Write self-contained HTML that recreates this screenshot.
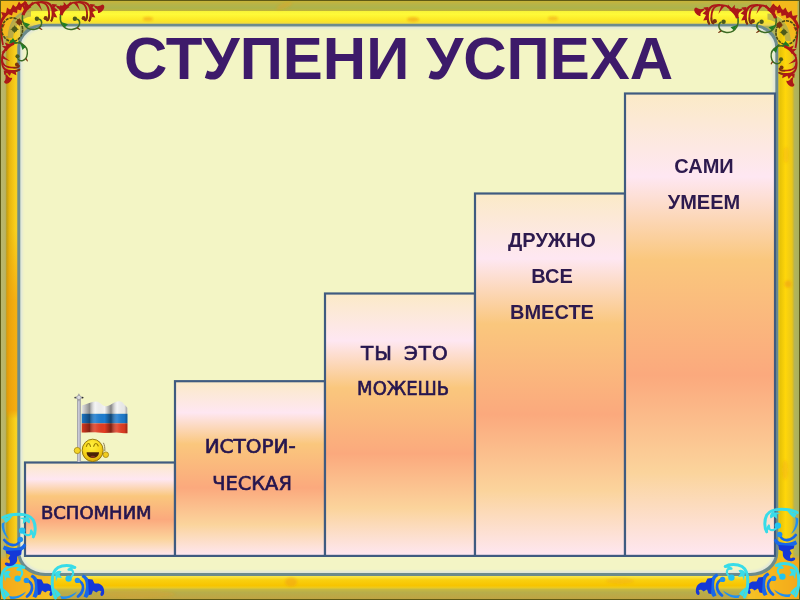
<!DOCTYPE html>
<html lang="ru">
<head>
<meta charset="utf-8">
<title>Ступени успеха</title>
<style>
html,body{margin:0;padding:0;}
body{width:800px;height:600px;overflow:hidden;background:#f3f5c5;position:relative;font-family:"Liberation Sans",sans-serif;}
#frame{position:absolute;left:0;top:0;width:800px;height:600px;}
#title{position:absolute;left:-1.5px;top:29px;width:800px;text-align:center;font-weight:bold;font-size:60px;line-height:60px;color:#3d1a6a;white-space:nowrap;}
.lbl{position:absolute;text-align:center;font-weight:bold;color:#2d1a4e;white-space:nowrap;width:152px;font-size:20px;line-height:36px;}
.cs{font-family:"DejaVu Sans","Liberation Sans",sans-serif;font-weight:normal;color:#26164f;-webkit-text-stroke:0.7px #26164f;}
.cs span{display:inline-block;}
</style>
</head>
<body>
<svg id="frame" width="800" height="600" viewBox="0 0 800 600">
<defs>
<linearGradient id="wheat" x1="0" y1="0" x2="0" y2="1">
<stop offset="0" stop-color="#FBEAC7"/>
<stop offset="0.18" stop-color="#FEE7F2"/>
<stop offset="0.36" stop-color="#FAC77D"/>
<stop offset="0.61" stop-color="#FBA97D"/>
<stop offset="0.82" stop-color="#FBD49C"/>
<stop offset="1" stop-color="#FEE7F2"/>
</linearGradient>
<linearGradient id="bevT" x1="0" y1="0" x2="0" y2="1">
<stop offset="0" stop-color="#c6b43a"/><stop offset="0.35" stop-color="#b6b448"/><stop offset="0.7" stop-color="#acb44c"/><stop offset="1" stop-color="#c0b438"/>
</linearGradient>
<linearGradient id="bevB" x1="0" y1="0" x2="0" y2="1">
<stop offset="0" stop-color="#cdbc3c"/><stop offset="0.4" stop-color="#b8ae4a"/><stop offset="1" stop-color="#bfa442"/>
</linearGradient>
<linearGradient id="bevL" x1="0" y1="0" x2="1" y2="0">
<stop offset="0" stop-color="#b9b870"/><stop offset="0.6" stop-color="#b9b465"/><stop offset="1" stop-color="#b89a10"/>
</linearGradient>
<linearGradient id="bevR" x1="0" y1="0" x2="1" y2="0">
<stop offset="0" stop-color="#c8b830"/><stop offset="0.4" stop-color="#b4b45a"/><stop offset="1" stop-color="#a8b060"/>
</linearGradient>
<linearGradient id="faceT" x1="0" y1="0" x2="0" y2="1">
<stop offset="0" stop-color="#f6f23a"/><stop offset="0.25" stop-color="#fffa38"/><stop offset="0.7" stop-color="#fbe624"/><stop offset="1" stop-color="#ecd455"/>
</linearGradient>
<linearGradient id="faceB" x1="0" y1="0" x2="0" y2="1">
<stop offset="0" stop-color="#f8f060"/><stop offset="0.35" stop-color="#f9d010"/><stop offset="0.75" stop-color="#f7c400"/><stop offset="1" stop-color="#e6cc30"/>
</linearGradient>
<linearGradient id="faceL" x1="0" y1="0" x2="1" y2="0">
<stop offset="0" stop-color="#b09a14"/><stop offset="0.25" stop-color="#e6bc10"/><stop offset="0.65" stop-color="#fad81e"/><stop offset="1" stop-color="#e8dc58"/>
</linearGradient>
<linearGradient id="faceLo" x1="0" y1="0" x2="0" y2="1">
<stop offset="0" stop-color="#f09408" stop-opacity="0.15"/><stop offset="0.38" stop-color="#f09408" stop-opacity="0.15"/><stop offset="0.5" stop-color="#f09408" stop-opacity="0.6"/><stop offset="0.69" stop-color="#f09408" stop-opacity="0.65"/><stop offset="0.705" stop-color="#f09408" stop-opacity="0.1"/><stop offset="1" stop-color="#f09408" stop-opacity="0.2"/>
</linearGradient>
<linearGradient id="faceR" x1="0" y1="0" x2="1" y2="0">
<stop offset="0" stop-color="#e4cc40"/><stop offset="0.2" stop-color="#e8c408"/><stop offset="0.5" stop-color="#ffd60a"/><stop offset="0.85" stop-color="#ecc818"/><stop offset="1" stop-color="#ccb830"/>
</linearGradient>
<linearGradient id="cornB" x1="0" y1="0" x2="1" y2="0"><stop offset="0" stop-color="#f2a61c"/><stop offset="0.6" stop-color="#f6b81c"/><stop offset="1" stop-color="#f4c42a"/></linearGradient>
<clipPath id="inClip"><rect x="1" y="1" width="798" height="598"/></clipPath>
<filter id="b2" x="-20%" y="-20%" width="140%" height="140%"><feGaussianBlur stdDeviation="2"/></filter>
<clipPath id="faceClip"><rect x="6.5" y="11" width="787" height="577.5" rx="30" ry="30"/></clipPath>
<filter id="b1" x="-5%" y="-5%" width="110%" height="110%"><feGaussianBlur stdDeviation="1.1"/></filter>
<filter id="b05" x="-5%" y="-5%" width="110%" height="110%"><feGaussianBlur stdDeviation="0.5"/></filter>
</defs>
<!-- outer dark line -->
<rect x="0" y="0" width="800" height="600" fill="#5f5a14"/>
<rect x="1" y="1" width="798" height="598" fill="#b0b25a"/>
<!-- outer bevel -->
<polygon points="1,1 799,1 790,11 10,11" fill="url(#bevT)"/>
<polygon points="1,599 799,599 790,588 10,588" fill="url(#bevB)"/>
<polygon points="1,1 8,11 8,588 1,599" fill="url(#bevL)"/>
<polygon points="799,1 792,11 792,588 799,599" fill="url(#bevR)"/>
<!-- yellow face -->
<g clip-path="url(#faceClip)">
<polygon points="0,0 800,0 770,30 30,30" fill="url(#faceT)" transform="translate(0,10.5) scale(1,0.5)"/>
<rect x="6" y="10.5" width="788" height="15" fill="url(#faceT)"/>
<rect x="6" y="575" width="788" height="14" fill="url(#faceB)"/>
<polygon points="6,10.5 20,27 20,573 6,589" fill="url(#faceL)"/>
<rect x="6" y="10" width="14" height="580" fill="url(#faceLo)"/>
<polygon points="794,10.5 777,27 777,573 794,589" fill="url(#faceR)"/>
</g>
<g id="marble" filter="url(#b1)" fill="#f0a018">
<ellipse cx="148" cy="19" rx="5" ry="2.2" opacity="0.55"/>
<ellipse cx="413" cy="19.5" rx="6" ry="2.5" opacity="0.6"/>
<ellipse cx="553" cy="18.5" rx="5" ry="2.2" opacity="0.5"/>
<ellipse cx="284" cy="6" rx="8" ry="2.6" opacity="0.35" transform="rotate(-20 284 6)"/>
<ellipse cx="291" cy="582" rx="6" ry="4.5" opacity="0.5"/>
<ellipse cx="135" cy="594" rx="40" ry="4" opacity="0.25"/>
<ellipse cx="788" cy="284" rx="3.5" ry="3.5" opacity="0.6"/>
<ellipse cx="786" cy="155" rx="3" ry="8" opacity="0.25"/>
<ellipse cx="785" cy="470" rx="3" ry="10" opacity="0.3"/>
<ellipse cx="620" cy="581" rx="14" ry="3" opacity="0.3"/>
</g>
<g id="cornFill" clip-path="url(#inClip)">
<rect x="-4" y="558" width="58" height="46" fill="url(#cornB)" filter="url(#b2)"/>
<rect x="-4" y="558" width="58" height="46" fill="url(#cornB)" filter="url(#b2)" transform="translate(800,0) scale(-1,1)"/>
</g>
<!-- inner panel -->
<rect x="17.3" y="23.8" width="761" height="552.2" rx="27" ry="23" fill="#6c8b8c"/>
<rect x="20.3" y="26.5" width="755" height="546.4" rx="25" ry="21" fill="#dfe6dc" filter="url(#b05)"/>
<rect x="22.5" y="28.5" width="750.6" height="542.4" rx="23" ry="19" fill="#f3f5c5" filter="url(#b1)"/>
<!-- bars -->
<g fill="url(#wheat)" stroke="#3f5b80" stroke-width="2.2">
<rect x="25" y="462.5" width="150" height="93.4"/>
<rect x="175" y="381.2" width="150" height="174.7"/>
<rect x="325" y="293.5" width="150" height="262.4"/>
<rect x="475" y="193.5" width="150" height="362.4"/>
<rect x="625" y="93.5" width="150" height="462.4"/>
</g>
<!-- FLAG -->
<g id="flag">
<defs>
<linearGradient id="pole" x1="0" y1="0" x2="1" y2="0"><stop offset="0" stop-color="#8e8e96"/><stop offset="0.45" stop-color="#d4d4e2"/><stop offset="1" stop-color="#90909a"/></linearGradient>
<linearGradient id="fold" x1="0" y1="0" x2="1" y2="0">
<stop offset="0" stop-color="#000" stop-opacity="0.05"/>
<stop offset="0.17" stop-color="#000" stop-opacity="0.42"/>
<stop offset="0.30" stop-color="#fff" stop-opacity="0.12"/>
<stop offset="0.50" stop-color="#000" stop-opacity="0"/>
<stop offset="0.64" stop-color="#000" stop-opacity="0.45"/>
<stop offset="0.78" stop-color="#fff" stop-opacity="0.12"/>
<stop offset="0.93" stop-color="#000" stop-opacity="0.05"/>
<stop offset="1" stop-color="#000" stop-opacity="0.35"/>
</linearGradient>
<radialGradient id="face" cx="0.45" cy="0.3" r="0.75"><stop offset="0" stop-color="#fff040"/><stop offset="0.55" stop-color="#f8d81c"/><stop offset="1" stop-color="#d8a000"/></radialGradient>
<clipPath id="flagClip"><path d="M81.7,405.6 C86,404.6 91,401.6 96,401.6 C100,401.6 102,406.2 106,406.2 C110,406.2 114,401.2 119.5,401.2 C122.5,401.2 124,404.5 125.4,405.6 L127.5,408 L127.5,433.2 C124,433.6 120,432.2 116,432.4 C110,432.8 104,433.2 98,432.6 C92,432 87,432.8 81.7,432.4 Z"/></clipPath>
</defs>
<rect x="77.1" y="399" width="3.7" height="63" fill="url(#pole)"/>
<path d="M78.9,393.2 L80.6,396 L83.2,397.6 L80.6,399.2 L78.9,401.4 L77.2,399.2 L74.5,397.6 L77.2,396 Z" fill="#a2a2a6"/>
<circle cx="78.9" cy="397.4" r="1.7" fill="#dcdce0"/>
<circle cx="75.2" cy="397.6" r="0.9" fill="#4a4a4a"/><circle cx="82.6" cy="397.6" r="0.9" fill="#2a2a2a"/>
<g clip-path="url(#flagClip)">
<rect x="81" y="400" width="48" height="13.8" fill="#f2f2f2"/>
<rect x="81" y="413.8" width="48" height="9.6" fill="#1c7cd0"/>
<rect x="81" y="423.4" width="48" height="11" fill="#e23c22"/>
<rect x="81.7" y="400" width="45.8" height="35" fill="url(#fold)"/>
</g>
<!-- smiley -->
<circle cx="77.3" cy="450.5" r="3.1" fill="#f4d428" stroke="#9a7a08" stroke-width="0.7"/>
<circle cx="105.8" cy="454.7" r="2.8" fill="#f0cc20" stroke="#9a7a08" stroke-width="0.7"/>
<path d="M103.4,442.8 C104.6,445 105,448 104.8,451" fill="none" stroke="#80704a" stroke-width="0.9"/>
<ellipse cx="92.65" cy="450.4" rx="10.5" ry="11.2" fill="url(#face)" stroke="#8a6e08" stroke-width="0.9"/>
<path d="M86.4,446.4 C87,444.2 87.8,443.5 88.4,443.5 C89,443.5 89.9,444.2 90.5,446.4" fill="none" stroke="#9a7c00" stroke-width="1.2" stroke-linecap="round"/>
<path d="M93.7,446.3 C94.4,444.2 95.2,443.5 95.9,443.5 C96.6,443.5 97.6,444.2 98.2,446" fill="none" stroke="#9a7c00" stroke-width="1.2" stroke-linecap="round"/>
<path d="M86.6,452.3 L99,452.3 C99,455.5 96.5,458 92.8,458 C89.1,458 86.6,455.5 86.6,452.3 Z" fill="#4a2206"/>
<ellipse cx="92.8" cy="456.8" rx="2.2" ry="1" fill="#8a3420"/>
</g>
<!-- /FLAG -->
<!-- ORN -->
<g transform="">
<path d="M1,1 L27,1 L27,11 C17,12 9,20 8,36 L1,36 Z" fill="#f3b91c"/>
<path d="M31,10.5 C18,11.5 9,20 7.5,38 L13,38 C14.5,25 21,18 31,16.5 Z" fill="#a9a456" opacity="0.75"/>
<path d="M0.5,24 C2,18 6,13.5 12,10 C17,7.5 21,6 25.5,3.2" fill="none" stroke="#ac1818" stroke-width="3" stroke-linecap="round"/>
<path d="M25,3.5 C27,5 28,7 28.5,9.5 L24,8 Z" fill="#ac1818"/>
<path d="M3,17 L1,12 L6,13 L7,7.5 L10.5,10 L13,4.5 L16,7.5 L19,1.5 L21.5,5 L25,0.5 L27,4 L14,11 Z" fill="#ac1818"/>
<path d="M8,14 L12,15.5 L13,12 L17,13 L17.5,9.5 L21,10.5 L22,7 L12,9 Z" fill="#ac1818"/>
<path d="M0.8,23 C1,30 1.5,38 3,45" fill="none" stroke="#ac1818" stroke-width="1.8"/>
<path d="M1,25 L5,24 L3,28 Z" fill="#ac1818"/>
<ellipse cx="12.2" cy="29.6" rx="10.4" ry="11.8" fill="none" stroke="#4c4a14" stroke-width="1.6" stroke-dasharray="3.2 0.9"/>
<circle cx="19.2" cy="22" r="2.7" fill="#7a3410"/>
<path d="M19.2,17.8 L20.5,21 L23.6,22 L20.5,23.2 L19.2,26.2 L18,23.2 L14.8,22 L18,21 Z" fill="#7a3410"/>
<circle cx="14.6" cy="29.2" r="2.6" fill="#4d5a1a"/>
<path d="M14.6,25 L15.8,28 L19,29.2 L15.8,30.4 L14.6,33.6 L13.4,30.4 L10.2,29.2 L13.4,28 Z" fill="#4d5a1a"/>
<path d="M8.5,43.5 L13,38 L17,43.8 Z" fill="#1e7d24"/>
<path d="M19,41.5 C21,43 23,45 25,47.5" fill="none" stroke="#3b6b22" stroke-width="1.6"/>
</g>
<g transform="">
<path d="M60.5,14.6 C62,10 65,7 68,5.2 C71,3 74,2 77,2.1 C80,2.2 83,3 84.6,5 C86.5,7.5 87.2,12 87.1,16 C87,18.6 86.4,20 85.2,20.3" fill="none" stroke="#ac1818" stroke-width="1.9" stroke-linecap="round"/>
<path d="M60.2,15 C61,11 63.5,7.5 67.5,5 L69.5,7 C66,9 63.5,12 62.5,15.5 Z" fill="#ac1818"/>
<path d="M62,10 L60,5 L64,7 L63.6,1.8 L67,5.5 L70.5,1.5 L71.5,4.5 L66,8.5 Z" fill="#ac1818"/>
<path d="M73,2.2 L77,2 L80.2,11 L76.5,6 Z" fill="#ac1818"/>
<path d="M78,1.2 C82,0.8 86,1.6 88.6,3.4 C91,5.2 92,9 92,13 C92,17 91.2,20 89.6,21.8 L88.2,20.8 C89.5,18.5 89.8,15 89.6,12 C89.3,8 88,5.5 85.5,4 C83.5,3 81,3 78.4,3.2 Z" fill="#ac1818"/>
<path d="M90,4 L95,4.6 L92.5,7.5 L96,10.5 L92.5,12 L95.3,17.5 L91.5,17 Z" fill="#ac1818"/>
<path d="M93,5 C96,6.5 99.5,6.5 101.5,5 C102,4.2 102.6,4.2 103.6,5 C105,6.5 104.3,9 102.2,11 C100.5,12.5 99,13.2 98,13 C98.5,11 97.5,9 95.5,8.2 Z" fill="#ac1818"/>
<path d="M87.1,15 C87.1,18.6 86.4,20.2 85,20.4" fill="none" stroke="#7a3410" stroke-width="1.6" stroke-linecap="round"/>
<path d="M91.4,17 C91.2,19.5 90.6,21 89.4,22 L88.2,20.8 C89.2,19.5 89.5,18 89.6,16.5 Z" fill="#7a3410"/>
<circle cx="83.7" cy="18.2" r="2.1" fill="#7a3410"/>
<path d="M60.5,15.6 C60,19 60.6,22 61.8,24 C64,28 68,29.8 72,29.4 C75.5,29 78.5,27.5 79.4,24.5 C80,22 79.2,20 77.5,19.2" fill="none" stroke="#3b6b22" stroke-width="1.5" stroke-linecap="round"/>
<circle cx="74.9" cy="18.8" r="2.2" fill="#4d5a1a"/>
<path d="M61.2,22 L68,24.2 L64.5,27.5 Z" fill="#1e7d24"/>
<path d="M77.8,27.2 L80.6,29.4 L79.6,30 L76.8,28.4 Z" fill="#7a3410"/>
</g>
<g transform="translate(-38,0)">
<path d="M60.5,14.6 C62,10 65,7 68,5.2 C71,3 74,2 77,2.1 C80,2.2 83,3 84.6,5 C86.5,7.5 87.2,12 87.1,16 C87,18.6 86.4,20 85.2,20.3" fill="none" stroke="#ac1818" stroke-width="1.9" stroke-linecap="round"/>
<path d="M60.2,15 C61,11 63.5,7.5 67.5,5 L69.5,7 C66,9 63.5,12 62.5,15.5 Z" fill="#ac1818"/>
<path d="M62,10 L60,5 L64,7 L63.6,1.8 L67,5.5 L70.5,1.5 L71.5,4.5 L66,8.5 Z" fill="#ac1818"/>
<path d="M73,2.2 L77,2 L80.2,11 L76.5,6 Z" fill="#ac1818"/>
<path d="M78,1.2 C82,0.8 86,1.6 88.6,3.4 C91,5.2 92,9 92,13 C92,17 91.2,20 89.6,21.8 L88.2,20.8 C89.5,18.5 89.8,15 89.6,12 C89.3,8 88,5.5 85.5,4 C83.5,3 81,3 78.4,3.2 Z" fill="#ac1818"/>
<path d="M90,4 L95,4.6 L92.5,7.5 L96,10.5 L92.5,12 L95.3,17.5 L91.5,17 Z" fill="#ac1818"/>
<path d="M93,5 C96,6.5 99.5,6.5 101.5,5 C102,4.2 102.6,4.2 103.6,5 C105,6.5 104.3,9 102.2,11 C100.5,12.5 99,13.2 98,13 C98.5,11 97.5,9 95.5,8.2 Z" fill="#ac1818"/>
<path d="M87.1,15 C87.1,18.6 86.4,20.2 85,20.4" fill="none" stroke="#7a3410" stroke-width="1.6" stroke-linecap="round"/>
<path d="M91.4,17 C91.2,19.5 90.6,21 89.4,22 L88.2,20.8 C89.2,19.5 89.5,18 89.6,16.5 Z" fill="#7a3410"/>
<circle cx="83.7" cy="18.2" r="2.1" fill="#7a3410"/>
<path d="M60.5,15.6 C60,19 60.6,22 61.8,24 C64,28 68,29.8 72,29.4 C75.5,29 78.5,27.5 79.4,24.5 C80,22 79.2,20 77.5,19.2" fill="none" stroke="#3b6b22" stroke-width="1.5" stroke-linecap="round"/>
<circle cx="74.9" cy="18.8" r="2.2" fill="#4d5a1a"/>
<path d="M61.2,22 L68,24.2 L64.5,27.5 Z" fill="#1e7d24"/>
<path d="M77.8,27.2 L80.6,29.4 L79.6,30 L76.8,28.4 Z" fill="#7a3410"/>
</g>
<g transform="matrix(0,0.93,0.93,0,0,-13.3)">
<path d="M60.5,14.6 C62,10 65,7 68,5.2 C71,3 74,2 77,2.1 C80,2.2 83,3 84.6,5 C86.5,7.5 87.2,12 87.1,16 C87,18.6 86.4,20 85.2,20.3" fill="none" stroke="#ac1818" stroke-width="1.9" stroke-linecap="round"/>
<path d="M60.2,15 C61,11 63.5,7.5 67.5,5 L69.5,7 C66,9 63.5,12 62.5,15.5 Z" fill="#ac1818"/>
<path d="M62,10 L60,5 L64,7 L63.6,1.8 L67,5.5 L70.5,1.5 L71.5,4.5 L66,8.5 Z" fill="#ac1818"/>
<path d="M73,2.2 L77,2 L80.2,11 L76.5,6 Z" fill="#ac1818"/>
<path d="M78,1.2 C82,0.8 86,1.6 88.6,3.4 C91,5.2 92,9 92,13 C92,17 91.2,20 89.6,21.8 L88.2,20.8 C89.5,18.5 89.8,15 89.6,12 C89.3,8 88,5.5 85.5,4 C83.5,3 81,3 78.4,3.2 Z" fill="#ac1818"/>
<path d="M90,4 L95,4.6 L92.5,7.5 L96,10.5 L92.5,12 L95.3,17.5 L91.5,17 Z" fill="#ac1818"/>
<path d="M93,5 C96,6.5 99.5,6.5 101.5,5 C102,4.2 102.6,4.2 103.6,5 C105,6.5 104.3,9 102.2,11 C100.5,12.5 99,13.2 98,13 C98.5,11 97.5,9 95.5,8.2 Z" fill="#ac1818"/>
<path d="M87.1,15 C87.1,18.6 86.4,20.2 85,20.4" fill="none" stroke="#7a3410" stroke-width="1.6" stroke-linecap="round"/>
<path d="M91.4,17 C91.2,19.5 90.6,21 89.4,22 L88.2,20.8 C89.2,19.5 89.5,18 89.6,16.5 Z" fill="#7a3410"/>
<circle cx="83.7" cy="18.2" r="2.1" fill="#7a3410"/>
<path d="M60.5,15.6 C60,19 60.6,22 61.8,24 C64,28 68,29.8 72,29.4 C75.5,29 78.5,27.5 79.4,24.5 C80,22 79.2,20 77.5,19.2" fill="none" stroke="#3b6b22" stroke-width="1.5" stroke-linecap="round"/>
<circle cx="74.9" cy="18.8" r="2.2" fill="#4d5a1a"/>
<path d="M61.2,22 L68,24.2 L64.5,27.5 Z" fill="#1e7d24"/>
<path d="M77.8,27.2 L80.6,29.4 L79.6,30 L76.8,28.4 Z" fill="#7a3410"/>
</g>
<g transform="translate(798.5,3) scale(-1,1)">
<g transform="">
<path d="M1,-2 L27,-2 L27,11 C17,12 9,20 8,36 L1,36 Z" fill="#f3b91c"/>
<path d="M31,10.5 C18,11.5 9,20 7.5,38 L13,38 C14.5,25 21,18 31,16.5 Z" fill="#a9a456" opacity="0.75"/>
<path d="M0.5,24 C2,18 6,13.5 12,10 C17,7.5 21,6 25.5,3.2" fill="none" stroke="#ac1818" stroke-width="3" stroke-linecap="round"/>
<path d="M25,3.5 C27,5 28,7 28.5,9.5 L24,8 Z" fill="#ac1818"/>
<path d="M3,17 L1,12 L6,13 L7,7.5 L10.5,10 L13,4.5 L16,7.5 L19,1.5 L21.5,5 L25,0.5 L27,4 L14,11 Z" fill="#ac1818"/>
<path d="M8,14 L12,15.5 L13,12 L17,13 L17.5,9.5 L21,10.5 L22,7 L12,9 Z" fill="#ac1818"/>
<path d="M0.8,23 C1,30 1.5,38 3,45" fill="none" stroke="#ac1818" stroke-width="1.8"/>
<path d="M1,25 L5,24 L3,28 Z" fill="#ac1818"/>
<ellipse cx="12.2" cy="29.6" rx="10.4" ry="11.8" fill="none" stroke="#4c4a14" stroke-width="1.6" stroke-dasharray="3.2 0.9"/>
<circle cx="19.2" cy="22" r="2.7" fill="#7a3410"/>
<path d="M19.2,17.8 L20.5,21 L23.6,22 L20.5,23.2 L19.2,26.2 L18,23.2 L14.8,22 L18,21 Z" fill="#7a3410"/>
<circle cx="14.6" cy="29.2" r="2.6" fill="#4d5a1a"/>
<path d="M14.6,25 L15.8,28 L19,29.2 L15.8,30.4 L14.6,33.6 L13.4,30.4 L10.2,29.2 L13.4,28 Z" fill="#4d5a1a"/>
<path d="M8.5,43.5 L13,38 L17,43.8 Z" fill="#1e7d24"/>
<path d="M19,41.5 C21,43 23,45 25,47.5" fill="none" stroke="#3b6b22" stroke-width="1.6"/>
</g>
<g transform="">
<path d="M60.5,14.6 C62,10 65,7 68,5.2 C71,3 74,2 77,2.1 C80,2.2 83,3 84.6,5 C86.5,7.5 87.2,12 87.1,16 C87,18.6 86.4,20 85.2,20.3" fill="none" stroke="#ac1818" stroke-width="1.9" stroke-linecap="round"/>
<path d="M60.2,15 C61,11 63.5,7.5 67.5,5 L69.5,7 C66,9 63.5,12 62.5,15.5 Z" fill="#ac1818"/>
<path d="M62,10 L60,5 L64,7 L63.6,1.8 L67,5.5 L70.5,1.5 L71.5,4.5 L66,8.5 Z" fill="#ac1818"/>
<path d="M73,2.2 L77,2 L80.2,11 L76.5,6 Z" fill="#ac1818"/>
<path d="M78,1.2 C82,0.8 86,1.6 88.6,3.4 C91,5.2 92,9 92,13 C92,17 91.2,20 89.6,21.8 L88.2,20.8 C89.5,18.5 89.8,15 89.6,12 C89.3,8 88,5.5 85.5,4 C83.5,3 81,3 78.4,3.2 Z" fill="#ac1818"/>
<path d="M90,4 L95,4.6 L92.5,7.5 L96,10.5 L92.5,12 L95.3,17.5 L91.5,17 Z" fill="#ac1818"/>
<path d="M93,5 C96,6.5 99.5,6.5 101.5,5 C102,4.2 102.6,4.2 103.6,5 C105,6.5 104.3,9 102.2,11 C100.5,12.5 99,13.2 98,13 C98.5,11 97.5,9 95.5,8.2 Z" fill="#ac1818"/>
<path d="M87.1,15 C87.1,18.6 86.4,20.2 85,20.4" fill="none" stroke="#7a3410" stroke-width="1.6" stroke-linecap="round"/>
<path d="M91.4,17 C91.2,19.5 90.6,21 89.4,22 L88.2,20.8 C89.2,19.5 89.5,18 89.6,16.5 Z" fill="#7a3410"/>
<circle cx="83.7" cy="18.2" r="2.1" fill="#7a3410"/>
<path d="M60.5,15.6 C60,19 60.6,22 61.8,24 C64,28 68,29.8 72,29.4 C75.5,29 78.5,27.5 79.4,24.5 C80,22 79.2,20 77.5,19.2" fill="none" stroke="#3b6b22" stroke-width="1.5" stroke-linecap="round"/>
<circle cx="74.9" cy="18.8" r="2.2" fill="#4d5a1a"/>
<path d="M61.2,22 L68,24.2 L64.5,27.5 Z" fill="#1e7d24"/>
<path d="M77.8,27.2 L80.6,29.4 L79.6,30 L76.8,28.4 Z" fill="#7a3410"/>
</g>
<g transform="translate(-38,0)">
<path d="M60.5,14.6 C62,10 65,7 68,5.2 C71,3 74,2 77,2.1 C80,2.2 83,3 84.6,5 C86.5,7.5 87.2,12 87.1,16 C87,18.6 86.4,20 85.2,20.3" fill="none" stroke="#ac1818" stroke-width="1.9" stroke-linecap="round"/>
<path d="M60.2,15 C61,11 63.5,7.5 67.5,5 L69.5,7 C66,9 63.5,12 62.5,15.5 Z" fill="#ac1818"/>
<path d="M62,10 L60,5 L64,7 L63.6,1.8 L67,5.5 L70.5,1.5 L71.5,4.5 L66,8.5 Z" fill="#ac1818"/>
<path d="M73,2.2 L77,2 L80.2,11 L76.5,6 Z" fill="#ac1818"/>
<path d="M78,1.2 C82,0.8 86,1.6 88.6,3.4 C91,5.2 92,9 92,13 C92,17 91.2,20 89.6,21.8 L88.2,20.8 C89.5,18.5 89.8,15 89.6,12 C89.3,8 88,5.5 85.5,4 C83.5,3 81,3 78.4,3.2 Z" fill="#ac1818"/>
<path d="M90,4 L95,4.6 L92.5,7.5 L96,10.5 L92.5,12 L95.3,17.5 L91.5,17 Z" fill="#ac1818"/>
<path d="M93,5 C96,6.5 99.5,6.5 101.5,5 C102,4.2 102.6,4.2 103.6,5 C105,6.5 104.3,9 102.2,11 C100.5,12.5 99,13.2 98,13 C98.5,11 97.5,9 95.5,8.2 Z" fill="#ac1818"/>
<path d="M87.1,15 C87.1,18.6 86.4,20.2 85,20.4" fill="none" stroke="#7a3410" stroke-width="1.6" stroke-linecap="round"/>
<path d="M91.4,17 C91.2,19.5 90.6,21 89.4,22 L88.2,20.8 C89.2,19.5 89.5,18 89.6,16.5 Z" fill="#7a3410"/>
<circle cx="83.7" cy="18.2" r="2.1" fill="#7a3410"/>
<path d="M60.5,15.6 C60,19 60.6,22 61.8,24 C64,28 68,29.8 72,29.4 C75.5,29 78.5,27.5 79.4,24.5 C80,22 79.2,20 77.5,19.2" fill="none" stroke="#3b6b22" stroke-width="1.5" stroke-linecap="round"/>
<circle cx="74.9" cy="18.8" r="2.2" fill="#4d5a1a"/>
<path d="M61.2,22 L68,24.2 L64.5,27.5 Z" fill="#1e7d24"/>
<path d="M77.8,27.2 L80.6,29.4 L79.6,30 L76.8,28.4 Z" fill="#7a3410"/>
</g>
<g transform="matrix(0,0.93,0.93,0,0,-13.3)">
<path d="M60.5,14.6 C62,10 65,7 68,5.2 C71,3 74,2 77,2.1 C80,2.2 83,3 84.6,5 C86.5,7.5 87.2,12 87.1,16 C87,18.6 86.4,20 85.2,20.3" fill="none" stroke="#ac1818" stroke-width="1.9" stroke-linecap="round"/>
<path d="M60.2,15 C61,11 63.5,7.5 67.5,5 L69.5,7 C66,9 63.5,12 62.5,15.5 Z" fill="#ac1818"/>
<path d="M62,10 L60,5 L64,7 L63.6,1.8 L67,5.5 L70.5,1.5 L71.5,4.5 L66,8.5 Z" fill="#ac1818"/>
<path d="M73,2.2 L77,2 L80.2,11 L76.5,6 Z" fill="#ac1818"/>
<path d="M78,1.2 C82,0.8 86,1.6 88.6,3.4 C91,5.2 92,9 92,13 C92,17 91.2,20 89.6,21.8 L88.2,20.8 C89.5,18.5 89.8,15 89.6,12 C89.3,8 88,5.5 85.5,4 C83.5,3 81,3 78.4,3.2 Z" fill="#ac1818"/>
<path d="M90,4 L95,4.6 L92.5,7.5 L96,10.5 L92.5,12 L95.3,17.5 L91.5,17 Z" fill="#ac1818"/>
<path d="M93,5 C96,6.5 99.5,6.5 101.5,5 C102,4.2 102.6,4.2 103.6,5 C105,6.5 104.3,9 102.2,11 C100.5,12.5 99,13.2 98,13 C98.5,11 97.5,9 95.5,8.2 Z" fill="#ac1818"/>
<path d="M87.1,15 C87.1,18.6 86.4,20.2 85,20.4" fill="none" stroke="#7a3410" stroke-width="1.6" stroke-linecap="round"/>
<path d="M91.4,17 C91.2,19.5 90.6,21 89.4,22 L88.2,20.8 C89.2,19.5 89.5,18 89.6,16.5 Z" fill="#7a3410"/>
<circle cx="83.7" cy="18.2" r="2.1" fill="#7a3410"/>
<path d="M60.5,15.6 C60,19 60.6,22 61.8,24 C64,28 68,29.8 72,29.4 C75.5,29 78.5,27.5 79.4,24.5 C80,22 79.2,20 77.5,19.2" fill="none" stroke="#3b6b22" stroke-width="1.5" stroke-linecap="round"/>
<circle cx="74.9" cy="18.8" r="2.2" fill="#4d5a1a"/>
<path d="M61.2,22 L68,24.2 L64.5,27.5 Z" fill="#1e7d24"/>
<path d="M77.8,27.2 L80.6,29.4 L79.6,30 L76.8,28.4 Z" fill="#7a3410"/>
</g>
</g>
<g transform="">
<path d="M23.8,567.4 C20,565 12,564.8 7,567.5 C3,570 1.2,576 1.2,582 C1.2,588 2.4,594 4.5,598" fill="none" stroke="#38dce8" stroke-width="3" stroke-linecap="round"/>
<path d="M23.8,567.4 C20.5,567.6 18.5,568.6 17.5,569.6 L21,570 C22.6,572 22.6,574.5 20.5,576.8" fill="none" stroke="#38dce8" stroke-width="2.2" stroke-linecap="round" stroke-linejoin="round"/>
<path d="M4,573 C6,570.5 9,570 10.5,571.5 L8.6,574.6 L11,578 L6.5,577.5 L5,581.5 Z" fill="#38dce8"/>
<path d="M2.5,588 C5,589.5 8,591.5 10,595 L6,597.5 Z" fill="#38dce8"/>
<circle cx="17.6" cy="578.6" r="3.2" fill="#22c4f0"/>
<path d="M9,596 C14,597.5 21,595.5 26,591.5 C23,596.5 17,599.5 10.5,599 Z" fill="#1f8ff0"/>
<path d="M26,580 C30,581 32.5,584.5 32,588.5 C31.5,592 29.5,594.5 27,596.5" fill="none" stroke="#1868e8" stroke-width="2.8" stroke-linecap="round"/>
<circle cx="26.4" cy="580.4" r="2.7" fill="#1f8ff0"/>
<path d="M32,574.5 C37,576 40,582 39.5,588.5 C39.2,592 38,595.5 36,598 L32.5,596.5 C34.5,592.5 35.5,587 34.5,582.5 C34,580 33,578.2 30.5,577 Z" fill="#1868e8"/>
<path d="M37,579 L41.5,579.5 L43.5,583.5 L47.5,583.6 C51,584.5 53.5,588 53.2,592.5 C53,595 51.5,596.5 50,595.8 C49,595 49.3,593 50.4,591.5 C49.5,590.3 47,590.5 45.5,592.5 L42,590.5 L40.5,594.5 L38,595 Z" fill="#1438d8"/>
</g>
<g transform="translate(51,0)">
<path d="M23.8,567.4 C20,565 12,564.8 7,567.5 C3,570 1.2,576 1.2,582 C1.2,588 2.4,594 4.5,598" fill="none" stroke="#38dce8" stroke-width="3" stroke-linecap="round"/>
<path d="M23.8,567.4 C20.5,567.6 18.5,568.6 17.5,569.6 L21,570 C22.6,572 22.6,574.5 20.5,576.8" fill="none" stroke="#38dce8" stroke-width="2.2" stroke-linecap="round" stroke-linejoin="round"/>
<path d="M4,573 C6,570.5 9,570 10.5,571.5 L8.6,574.6 L11,578 L6.5,577.5 L5,581.5 Z" fill="#38dce8"/>
<path d="M2.5,588 C5,589.5 8,591.5 10,595 L6,597.5 Z" fill="#38dce8"/>
<circle cx="17.6" cy="578.6" r="3.2" fill="#22c4f0"/>
<path d="M9,596 C14,597.5 21,595.5 26,591.5 C23,596.5 17,599.5 10.5,599 Z" fill="#1f8ff0"/>
<path d="M26,580 C30,581 32.5,584.5 32,588.5 C31.5,592 29.5,594.5 27,596.5" fill="none" stroke="#1868e8" stroke-width="2.8" stroke-linecap="round"/>
<circle cx="26.4" cy="580.4" r="2.7" fill="#1f8ff0"/>
<path d="M32,574.5 C37,576 40,582 39.5,588.5 C39.2,592 38,595.5 36,598 L32.5,596.5 C34.5,592.5 35.5,587 34.5,582.5 C34,580 33,578.2 30.5,577 Z" fill="#1868e8"/>
<path d="M37,579 L41.5,579.5 L43.5,583.5 L47.5,583.6 C51,584.5 53.5,588 53.2,592.5 C53,595 51.5,596.5 50,595.8 C49,595 49.3,593 50.4,591.5 C49.5,590.3 47,590.5 45.5,592.5 L42,590.5 L40.5,594.5 L38,595 Z" fill="#1438d8"/>
</g>
<g transform="matrix(0,1,-1,0,600.75,513)">
<path d="M23.8,567.4 C20,565 12,564.8 7,567.5 C3,570 1.2,576 1.2,582 C1.2,588 2.4,594 4.5,598" fill="none" stroke="#38dce8" stroke-width="3" stroke-linecap="round"/>
<path d="M23.8,567.4 C20.5,567.6 18.5,568.6 17.5,569.6 L21,570 C22.6,572 22.6,574.5 20.5,576.8" fill="none" stroke="#38dce8" stroke-width="2.2" stroke-linecap="round" stroke-linejoin="round"/>
<path d="M4,573 C6,570.5 9,570 10.5,571.5 L8.6,574.6 L11,578 L6.5,577.5 L5,581.5 Z" fill="#38dce8"/>
<path d="M2.5,588 C5,589.5 8,591.5 10,595 L6,597.5 Z" fill="#38dce8"/>
<circle cx="17.6" cy="578.6" r="3.2" fill="#22c4f0"/>
<path d="M9,596 C14,597.5 21,595.5 26,591.5 C23,596.5 17,599.5 10.5,599 Z" fill="#1f8ff0"/>
<path d="M26,580 C30,581 32.5,584.5 32,588.5 C31.5,592 29.5,594.5 27,596.5" fill="none" stroke="#1868e8" stroke-width="2.8" stroke-linecap="round"/>
<circle cx="26.4" cy="580.4" r="2.7" fill="#1f8ff0"/>
<path d="M32,574.5 C37,576 40,582 39.5,588.5 C39.2,592 38,595.5 36,598 L32.5,596.5 C34.5,592.5 35.5,587 34.5,582.5 C34,580 33,578.2 30.5,577 Z" fill="#1868e8"/>
<path d="M37,579 L41.5,579.5 L43.5,583.5 L47.5,583.6 C51,584.5 53.5,588 53.2,592.5 C53,595 51.5,596.5 50,595.8 C49,595 49.3,593 50.4,591.5 C49.5,590.3 47,590.5 45.5,592.5 L42,590.5 L40.5,594.5 L38,595 Z" fill="#1438d8"/>
</g>
<g transform="translate(800,0) scale(-1,1)">
<g transform="translate(0,-2)">
<path d="M23.8,567.4 C20,565 12,564.8 7,567.5 C3,570 1.2,576 1.2,582 C1.2,588 2.4,594 4.5,598" fill="none" stroke="#38dce8" stroke-width="3" stroke-linecap="round"/>
<path d="M23.8,567.4 C20.5,567.6 18.5,568.6 17.5,569.6 L21,570 C22.6,572 22.6,574.5 20.5,576.8" fill="none" stroke="#38dce8" stroke-width="2.2" stroke-linecap="round" stroke-linejoin="round"/>
<path d="M4,573 C6,570.5 9,570 10.5,571.5 L8.6,574.6 L11,578 L6.5,577.5 L5,581.5 Z" fill="#38dce8"/>
<path d="M2.5,588 C5,589.5 8,591.5 10,595 L6,597.5 Z" fill="#38dce8"/>
<circle cx="17.6" cy="578.6" r="3.2" fill="#22c4f0"/>
<path d="M9,596 C14,597.5 21,595.5 26,591.5 C23,596.5 17,599.5 10.5,599 Z" fill="#1f8ff0"/>
<path d="M26,580 C30,581 32.5,584.5 32,588.5 C31.5,592 29.5,594.5 27,596.5" fill="none" stroke="#1868e8" stroke-width="2.8" stroke-linecap="round"/>
<circle cx="26.4" cy="580.4" r="2.7" fill="#1f8ff0"/>
<path d="M32,574.5 C37,576 40,582 39.5,588.5 C39.2,592 38,595.5 36,598 L32.5,596.5 C34.5,592.5 35.5,587 34.5,582.5 C34,580 33,578.2 30.5,577 Z" fill="#1868e8"/>
<path d="M37,579 L41.5,579.5 L43.5,583.5 L47.5,583.6 C51,584.5 53.5,588 53.2,592.5 C53,595 51.5,596.5 50,595.8 C49,595 49.3,593 50.4,591.5 C49.5,590.3 47,590.5 45.5,592.5 L42,590.5 L40.5,594.5 L38,595 Z" fill="#1438d8"/>
</g>
<g transform="translate(51,-1)">
<path d="M23.8,567.4 C20,565 12,564.8 7,567.5 C3,570 1.2,576 1.2,582 C1.2,588 2.4,594 4.5,598" fill="none" stroke="#38dce8" stroke-width="3" stroke-linecap="round"/>
<path d="M23.8,567.4 C20.5,567.6 18.5,568.6 17.5,569.6 L21,570 C22.6,572 22.6,574.5 20.5,576.8" fill="none" stroke="#38dce8" stroke-width="2.2" stroke-linecap="round" stroke-linejoin="round"/>
<path d="M4,573 C6,570.5 9,570 10.5,571.5 L8.6,574.6 L11,578 L6.5,577.5 L5,581.5 Z" fill="#38dce8"/>
<path d="M2.5,588 C5,589.5 8,591.5 10,595 L6,597.5 Z" fill="#38dce8"/>
<circle cx="17.6" cy="578.6" r="3.2" fill="#22c4f0"/>
<path d="M9,596 C14,597.5 21,595.5 26,591.5 C23,596.5 17,599.5 10.5,599 Z" fill="#1f8ff0"/>
<path d="M26,580 C30,581 32.5,584.5 32,588.5 C31.5,592 29.5,594.5 27,596.5" fill="none" stroke="#1868e8" stroke-width="2.8" stroke-linecap="round"/>
<circle cx="26.4" cy="580.4" r="2.7" fill="#1f8ff0"/>
<path d="M32,574.5 C37,576 40,582 39.5,588.5 C39.2,592 38,595.5 36,598 L32.5,596.5 C34.5,592.5 35.5,587 34.5,582.5 C34,580 33,578.2 30.5,577 Z" fill="#1868e8"/>
<path d="M37,579 L41.5,579.5 L43.5,583.5 L47.5,583.6 C51,584.5 53.5,588 53.2,592.5 C53,595 51.5,596.5 50,595.8 C49,595 49.3,593 50.4,591.5 C49.5,590.3 47,590.5 45.5,592.5 L42,590.5 L40.5,594.5 L38,595 Z" fill="#1438d8"/>
</g>
<g transform="matrix(0,1,-1,0,600.75,508)">
<path d="M23.8,567.4 C20,565 12,564.8 7,567.5 C3,570 1.2,576 1.2,582 C1.2,588 2.4,594 4.5,598" fill="none" stroke="#38dce8" stroke-width="3" stroke-linecap="round"/>
<path d="M23.8,567.4 C20.5,567.6 18.5,568.6 17.5,569.6 L21,570 C22.6,572 22.6,574.5 20.5,576.8" fill="none" stroke="#38dce8" stroke-width="2.2" stroke-linecap="round" stroke-linejoin="round"/>
<path d="M4,573 C6,570.5 9,570 10.5,571.5 L8.6,574.6 L11,578 L6.5,577.5 L5,581.5 Z" fill="#38dce8"/>
<path d="M2.5,588 C5,589.5 8,591.5 10,595 L6,597.5 Z" fill="#38dce8"/>
<circle cx="17.6" cy="578.6" r="3.2" fill="#22c4f0"/>
<path d="M9,596 C14,597.5 21,595.5 26,591.5 C23,596.5 17,599.5 10.5,599 Z" fill="#1f8ff0"/>
<path d="M26,580 C30,581 32.5,584.5 32,588.5 C31.5,592 29.5,594.5 27,596.5" fill="none" stroke="#1868e8" stroke-width="2.8" stroke-linecap="round"/>
<circle cx="26.4" cy="580.4" r="2.7" fill="#1f8ff0"/>
<path d="M32,574.5 C37,576 40,582 39.5,588.5 C39.2,592 38,595.5 36,598 L32.5,596.5 C34.5,592.5 35.5,587 34.5,582.5 C34,580 33,578.2 30.5,577 Z" fill="#1868e8"/>
<path d="M37,579 L41.5,579.5 L43.5,583.5 L47.5,583.6 C51,584.5 53.5,588 53.2,592.5 C53,595 51.5,596.5 50,595.8 C49,595 49.3,593 50.4,591.5 C49.5,590.3 47,590.5 45.5,592.5 L42,590.5 L40.5,594.5 L38,595 Z" fill="#1438d8"/>
</g>
</g>
<!-- /ORN -->
</svg>
<div id="title">СТУПЕНИ УСПЕХА</div>
<div class="lbl cs" style="left:20.3px;top:495.3px;font-size:18px;"><span>ВСПОМНИМ</span></div>
<div class="lbl cs" style="left:175px;top:427px;line-height:38px;"><span style="position:relative;left:-0.8px;top:-0.3px">ИСТОРИ-</span><br><span style="transform:scaleX(0.97);position:relative;left:1.3px;top:-1px">ЧЕСКАЯ</span></div>
<div class="lbl cs" style="left:328px;top:335px;line-height:36px;"><span style="letter-spacing:0.9px;word-spacing:4px;position:relative;left:0.8px;top:-0.2px">ТЫ ЭТО</span><br><span style="transform:scaleX(0.9);position:relative;left:-1px;top:-0.8px">МОЖЕШЬ</span></div>
<div class="lbl" style="left:476px;top:222px;">ДРУЖНО<br>ВСЕ<br>ВМЕСТЕ</div>
<div class="lbl" style="left:628px;top:148px;">САМИ<br>УМЕЕМ</div>
</body>
</html>
